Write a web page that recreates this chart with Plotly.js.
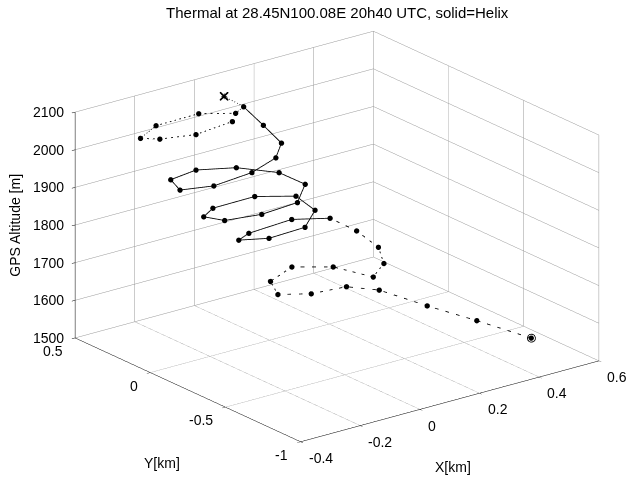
<!DOCTYPE html>
<html>
<head>
<meta charset="utf-8">
<script src="https://cdn.plot.ly/plotly-3.0.1.min.js"></script>
<style>html,body{margin:0;padding:0;background:#fff;}#chart{width:628px;height:477px;}</style>
</head>
<body>
<div id="chart"></div>
<script>
// Approach glide into the thermal (dashed)
var approachX = [0.510, 0.444, 0.376, 0.316, 0.252, 0.135, 0.051, 0.085, 0.186, 0.263, 0.291, 0.365, 0.407, 0.405, 0.376];
var approachY = [-0.728, -0.497, -0.302, -0.102, -0.011, -0.009, 0.046, 0.163, 0.221, 0.099, -0.112, -0.036, 0.084, 0.225, 0.344];
var approachZ = [1530, 1548, 1566, 1584, 1590, 1596, 1602, 1608, 1614, 1620, 1626, 1632, 1644, 1662, 1680];
// Helix (solid)
var helixX = [0.376, 0.267, 0.089, 0.014, 0.062, 0.166, 0.243, 0.243, 0.132, -0.034, -0.115, -0.112, -0.028, 0.077, 0.155, 0.129, 0.039, -0.081, -0.201, -0.253, -0.185, -0.066, 0.028, 0.085, 0.104, 0.125];
var helixY = [0.344, 0.383, 0.315, 0.233, 0.127, 0.094, 0.180, 0.307, 0.361, 0.310, 0.210, 0.077, -0.003, -0.032, 0.071, 0.193, 0.299, 0.329, 0.259, 0.094, 0.004, -0.013, 0.014, 0.090, 0.248, 0.421];
var helixZ = [1680, 1693, 1707, 1720, 1734, 1747, 1760, 1774, 1787, 1801, 1814, 1828, 1841, 1855, 1868, 1882, 1895, 1909, 1922, 1936, 1949, 1962, 1976, 1989, 2003, 2016];
// Top part (dashed), first point is the end marker (*)
var topX = [0.039, 0.125, 0.073, -0.012, -0.162, -0.258, -0.226, -0.134, -0.003];
var topY = [0.380, 0.421, 0.371, 0.448, 0.434, 0.347, 0.282, 0.224, 0.242];
var topZ = [2070, 2016, 2019, 2022, 2025, 2028, 2031, 2034, 2037];

var xTicks = [-0.4, -0.2, 0, 0.2, 0.4, 0.6];
var yTicks = [-1, -0.5, 0, 0.5];
var zTicks = [1500, 1600, 1700, 1800, 1900, 2000, 2100];
var xRange = [-0.4, 0.6], yRange = [-1, 0.5], zRange = [1500, 2100];

var dot = {size: 3.1, color: '#000', symbol: 'circle'};
var traces = [
  {type: 'scatter3d', mode: 'lines+markers', x: approachX, y: approachY, z: approachZ,
   line: {color: '#000', width: 1.7, dash: 'dash'}, marker: dot},
  {type: 'scatter3d', mode: 'lines+markers', x: helixX, y: helixY, z: helixZ,
   line: {color: '#000', width: 1.7}, marker: dot},
  {type: 'scatter3d', mode: 'lines', x: topX, y: topY, z: topZ,
   line: {color: '#000', width: 1.7, dash: 'dash'}},
  {type: 'scatter3d', mode: 'markers', x: topX.slice(2), y: topY.slice(2), z: topZ.slice(2),
   marker: dot},
  {type: 'scatter3d', mode: 'markers', x: [approachX[0]], y: [approachY[0]], z: [approachZ[0]],
   marker: {size: 5, color: '#000', symbol: 'circle-open'}},
  {type: 'scatter3d', mode: 'markers', x: [topX[0]], y: [topY[0]], z: [topZ[0]],
   marker: {size: 3.2, color: '#000', symbol: 'cross'}},
  {type: 'scatter3d', mode: 'markers', x: [topX[0]], y: [topY[0]], z: [topZ[0]],
   marker: {size: 2, color: '#000', symbol: 'x'}}
];

var fam = 'Liberation Sans, Arial, sans-serif';
var fnt = {family: fam, size: 14, color: '#000'};
function ax(range, ticks) {
  return {
    title: {text: ''},
    range: range, autorange: false,
    tickvals: ticks, showticklabels: false,
    showgrid: true, gridcolor: '#979797', gridwidth: 1,
    showline: true, linecolor: '#000', linewidth: 1,
    ticks: 'outside', ticklen: 4, tickcolor: '#000',
    showbackground: false, zeroline: false,
    showspikes: false
  };
}

// Tick labels and axis titles as scene annotations (horizontal text, like the reference)
var ann = [];
zTicks.forEach(function(v){
  ann.push({x: xRange[0], y: yRange[1], z: v, text: String(v), showarrow: false,
            xanchor: 'right', yanchor: 'middle', xshift: -10, yshift: 0, font: fnt});
});
yTicks.forEach(function(v){
  ann.push({x: xRange[0], y: v, z: zRange[0], text: String(v), showarrow: false,
            xanchor: 'right', yanchor: 'middle', xshift: -11, yshift: -13, font: fnt});
});
xTicks.forEach(function(v){
  ann.push({x: v, y: yRange[0], z: zRange[0], text: String(v), showarrow: false,
            xanchor: 'left', yanchor: 'middle', xshift: 6, yshift: -16, font: fnt});
});
ann.push({x: xRange[0], y: yRange[1], z: (zRange[0] + zRange[1]) / 2, text: 'GPS Altitude [m]',
          showarrow: false, textangle: -90, xanchor: 'center', yanchor: 'middle', xshift: -60, font: fnt});
ann.push({x: xRange[0], y: (yRange[0] + yRange[1]) / 2, z: zRange[0], text: 'Y[km]',
          showarrow: false, xanchor: 'center', yanchor: 'middle', xshift: -26, yshift: -73, font: fnt});
ann.push({x: (xRange[0] + xRange[1]) / 2, y: yRange[0], z: zRange[0], text: 'X[km]',
          showarrow: false, xanchor: 'center', yanchor: 'middle', xshift: 3, yshift: -65, font: fnt});

var k = 1.59; // overall zoom of the box
var layout = {
  width: 628, height: 477,
  margin: {l: 0, r: 0, t: 0, b: 0},
  paper_bgcolor: '#fff',
  showlegend: false,
  title: {text: 'Thermal at 28.45N100.08E 20h40 UTC, solid=Helix', font: {family: fam, size: 15, color: '#000'},
          x: 0.537, xanchor: 'center', xref: 'paper', y: 0.973, yanchor: 'middle', yref: 'container'},
  scene: {
    domain: {x: [0.074, 1], y: [0.008, 1]},
    xaxis: ax(xRange, xTicks),
    yaxis: ax(yRange, yTicks),
    zaxis: ax(zRange, zTicks),
    aspectmode: 'manual',
    aspectratio: {x: 1 * k, y: 0.985 * k, z: 0.642 * k},
    camera: {
      projection: {type: 'orthographic'},
      eye: {x: -0.5695 * 1.93, y: -0.7421 * 1.93, z: 0.3535 * 1.93},
      up: {x: 0, y: 0, z: 1},
      center: {x: 0, y: 0, z: 0}
    },
    annotations: ann,
    bgcolor: '#fff'
  }
};

Plotly.newPlot('chart', traces, layout, {displayModeBar: false});
</script>
</body>
</html>
